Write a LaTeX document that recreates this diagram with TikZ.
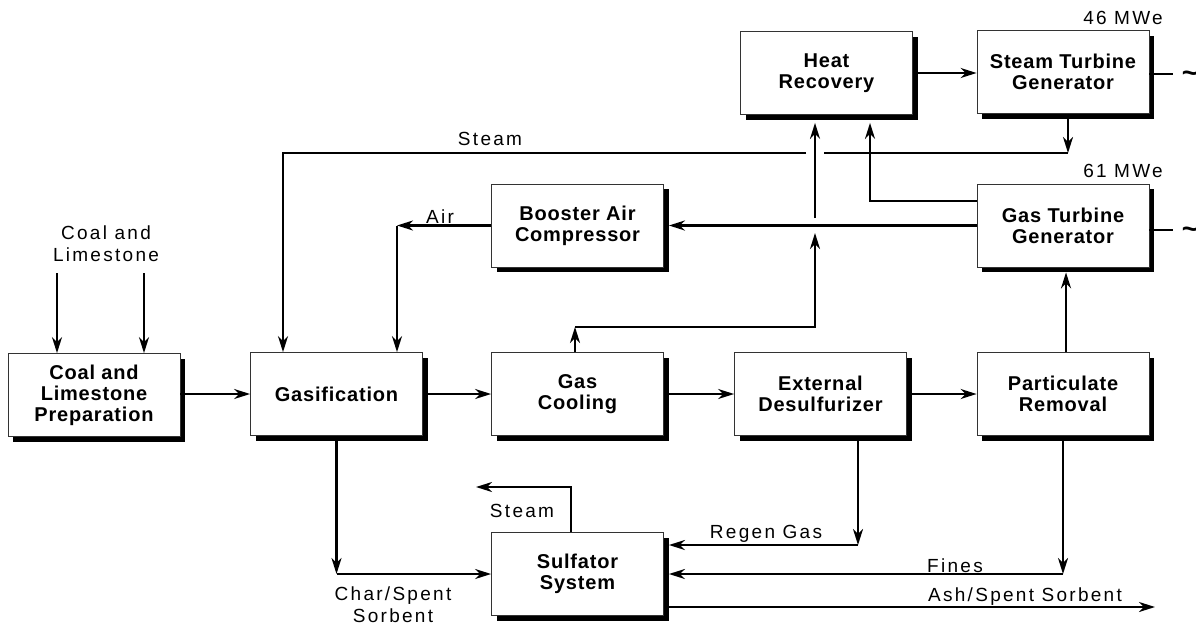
\documentclass[tikz,border=0pt]{standalone}
\usepackage{fontspec}
\setmainfont{Liberation Sans}
\newfontfamily\boxfont{Liberation Sans}[LetterSpace=4]
\newfontfamily\lblfont{Liberation Sans}[LetterSpace=12]
\usetikzlibrary{arrows.meta, positioning, calc, shadows}

\begin{document}
\begin{tikzpicture}[x=1pt, y=-1pt,
  box/.style={rectangle, draw=black!80, line width=0.8pt, fill=white,
              minimum width=172pt, minimum height=83pt, inner sep=2pt,
              align=center, font=\boxfont\bfseries\fontsize{20}{21}\selectfont,
              drop shadow={shadow xshift=5pt, shadow yshift=-5pt,
                           fill=black, opacity=1}},
  arr/.style={-{Stealth[length=16pt, width=10pt, inset=5pt]}, line width=2.3pt},
  flow/.style={line width=2.3pt},
  lbl/.style={align=center, inner sep=0pt,
              font=\lblfont\fontsize{19}{22}\selectfont},
  ac/.style={inner sep=0pt, font=\bfseries\fontsize{28}{28}\selectfont},
]
\useasboundingbox (0,0) rectangle (1196,624);

\node[box] (PREP)  at (94,395)     {Coal and\\Limestone\\Preparation};
\node[box] (GASF)  at (336.5,394)  {Gasification};
\node[box] (COOL)  at (577.5,394)  {Gas\\Cooling};
\node[box] (DESUL) at (820.5,394)  {External\\Desulfurizer};
\node[box] (PART)  at (1063,394)   {Particulate\\Removal};
\node[box] (BAC)   at (577.5,225.5){Booster Air\\Compressor};
\node[box] (GTG)   at (1063,225.5) {Gas Turbine\\Generator};
\node[box] (HR)    at (826.5,73)   {Heat\\Recovery};
\node[box] (STG)   at (1063,72)    {Steam Turbine\\Generator};
\node[box] (SULF)  at (577.5,574)  {Sulfator\\System};

\node[lbl] (feed)   at (106,244)   {Coal and\\Limestone};
\node[lbl] (stmtop) at (490,139)   {Steam};
\node[lbl] (airlbl) at (440,217)   {Air};
\node[lbl, anchor=east] (mw46) at (1163,18)  {46 MWe};
\node[lbl, anchor=east] (mw61) at (1163,171) {61 MWe};
\node[lbl] (stmbot) at (522,511)   {Steam};
\node[lbl] (rglbl)  at (766,534)   {Regen Gas};
\node[lbl] (fnlbl)  at (955,566)   {Fines};
\node[lbl] (ashlbl) at (1025,597)  {Ash/Spent Sorbent};
\node[lbl] (chlbl)  at (393,604.5) {Char/Spent\\Sorbent};
\node[ac] (ac1) at (1190,77)  {\textasciitilde};
\node[ac] (ac2) at (1190,233) {\textasciitilde};

\coordinate (HRb)   at ([yshift=-8pt]HR.south);
\coordinate (GTGb)  at ([yshift=-5pt]GTG.south);
\coordinate (BACe)  at ([xshift=5pt]BAC.east);
\coordinate (SULFe) at ([xshift=5pt]SULF.east);
\coordinate (fd1)   at (57,273);
\coordinate (fd2)   at (144,273);
\coordinate (airJ)  at (397,225.5);
\coordinate (stJ)   at (1068,153);
\coordinate (stGapR) at (824,153);
\coordinate (stGapL) at (806,153);
\coordinate (stL)   at (283,153);
\coordinate (cgA)   at (575,327);
\coordinate (cgB)   at (815,233);
\coordinate (cgC)   at (815,218);
\coordinate (el1)   at (1173,74);
\coordinate (el2)   at (1173,230);
\coordinate (soE)   at (476,487);
\coordinate (rgJ)   at (858,545);
\coordinate (ashE)  at (1155,607);

\draw[arr] (fd1) -- (fd1 |- PREP.north);
\draw[arr] (fd2) -- (fd2 |- PREP.north);
\draw[arr] (PREP.east |- GASF.west) -- (GASF.west);
\draw[arr] (GASF.east) -- (COOL.west);
\draw[arr] (COOL.east) -- (DESUL.west);
\draw[arr] (DESUL.east) -- (PART.west);
\draw[arr] ([xshift=3pt]PART.north) -- ([xshift=3pt]GTGb);
\draw[arr] (HR.east) -- (HR.east -| STG.west);
\draw[arr] (GTG.west) -- (BACe);
\draw[arr] (BAC.west) -- (airJ);
\draw[arr] (airJ) -- (airJ |- GASF.north);

\draw[arr] ([xshift=5pt]STG.south) -- (stJ);
\draw[flow] (stJ) -- (stGapR);
\draw[arr] (stGapL) -- (stL) -- (stL |- GASF.north);

\draw[arr] (cgA |- COOL.north) -- (cgA);
\draw[arr] (cgA) -| (cgB);
\draw[arr] (cgC) -- (cgC |- HRb);
\draw[arr] ([yshift=24.5pt]GTG.west) -| ([xshift=43.5pt]HRb);

\draw[flow] (STG.east |- el1) -- (el1);
\draw[flow] (GTG.east |- el2) -- (el2);

\draw[arr] (GASF.south) -- (GASF.south |- SULF.west);
\draw[arr] (GASF.south |- SULF.west) -- (SULF.west);
\draw[arr] ([xshift=-6.5pt]SULF.north) |- (soE);
\draw[arr] (DESUL.south -| rgJ) -- (rgJ);
\draw[arr] (rgJ) -- (SULFe |- rgJ);
\draw[arr] (PART.south) -- (PART.south |- SULFe);
\draw[arr] (PART.south |- SULFe) -- (SULFe);
\draw[arr] (SULFe |- ashE) -- (ashE);
\end{tikzpicture}
\end{document}
